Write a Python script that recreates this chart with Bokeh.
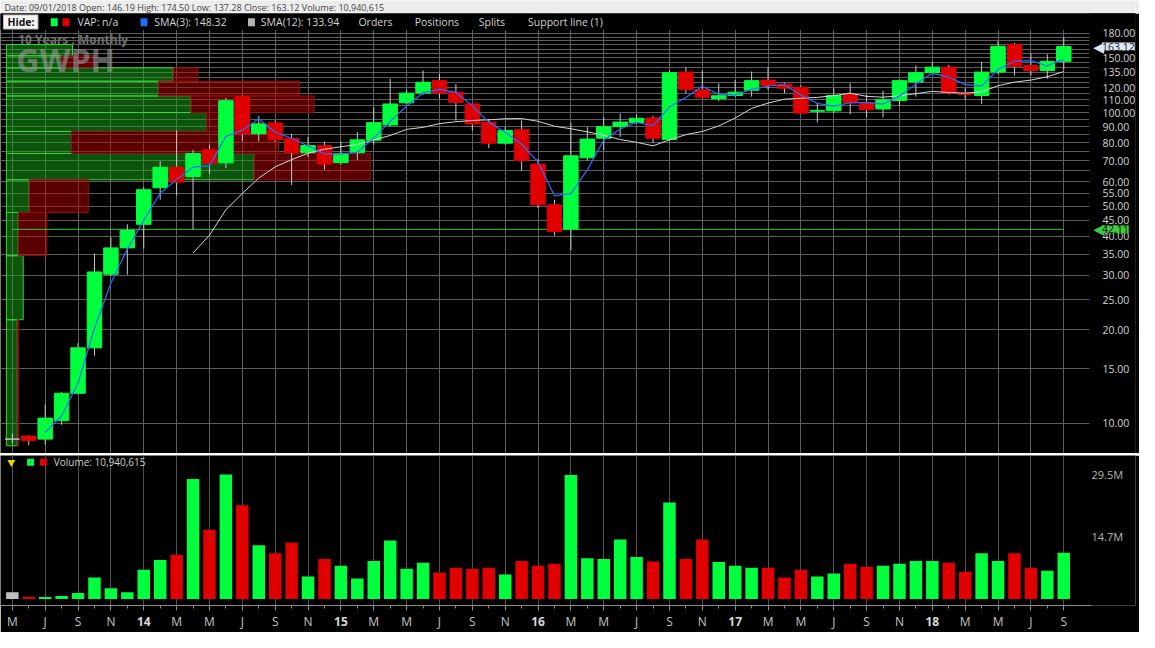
import pandas as pd
from bokeh.plotting import figure
from bokeh.models import Range1d, FixedTicker, PrintfTickFormatter, Label, LinearAxis
from bokeh.layouts import column
from bokeh.embed import file_html
from bokeh.resources import INLINE
from bokeh.core.properties import value

# ---------------- data (GWPH, monthly, May 2013 - Sep 2018) ----------------
months = [d.strftime("%b %Y") for d in pd.date_range("2013-05-01", periods=65, freq="MS")]

opens = [8.90, 9.10, 8.90, 10.2, 12.5, 17.5, 30.2, 36.7, 43.7, 57.3,
         66.7, 62.3, 75.9, 68.9, 112.5, 85.5, 92.6, 82.7, 74.3, 78.3,
         69.0, 74.3, 81.5, 91.2, 107.5, 115.5, 126.7, 116.4, 106.6, 93.2,
         79.7, 88.1, 68.3, 50.5, 42.2, 71.5, 82.7, 90.1, 92.8, 96.1,
         82.0, 135.0, 118.4, 110.8, 113.5, 118.0, 127.2, 123.5, 120.6, 101.0,
         101.3, 114.3, 107.5, 102.7, 109.4, 125.4, 134.4, 140.0, 115.5, 113.5,
         135.0, 165.7, 141.7, 136.6, 146.19]
highs = [9.3, 9.15, 11.5, 12.6, 18.1, 35.2, 39.7, 43.7, 57.5, 69.8,
         87.6, 75.9, 78.8, 111.5, 113.5, 97.6, 94.3, 85.5, 83.5, 80.7,
         80.7, 86.6, 104.0, 128.5, 118.4, 136.6, 133.4, 123.5, 107.0, 95.4,
         89.8, 94.3, 70.8, 52.4, 92.8, 89.8, 96.6, 99.3, 98.8, 97.6,
         136.6, 140.0, 136.6, 124.2, 127.2, 135.6, 140.0, 125.0, 122.2, 107.5,
         119.8, 124.2, 114.3, 117.5, 127.5, 141.7, 145.7, 142.4, 119.8, 145.7,
         170.0, 167.6, 155.0, 154.0, 174.50]
lows = [8.6, 8.5, 8.55, 9.9, 12.4, 16.5, 29.8, 30.1, 36.5, 52.4,
        54.1, 42.11, 63.4, 66.3, 80.7, 80.7, 80.5, 58.5, 72.0, 65.5,
        68.0, 70.4, 78.8, 90.0, 106.5, 114.0, 111.0, 94.3, 87.6, 76.9,
        79.0, 64.9, 49.3, 40.2, 36.1, 70.0, 75.6, 83.5, 92.0, 79.7,
        81.0, 115.5, 111.0, 108.8, 112.5, 112.5, 118.4, 115.5, 99.0, 93.0,
        99.6, 98.8, 96.6, 96.6, 105.0, 112.5, 133.0, 114.3, 110.0, 106.6,
        133.0, 131.6, 131.6, 128.5, 137.28]
closes = [8.90, 8.80, 10.4, 12.5, 17.5, 30.7, 36.7, 41.8, 56.5, 66.7,
          59.7, 73.8, 68.6, 109.2, 85.5, 92.0, 81.7, 74.3, 78.3, 68.3,
          73.7, 81.7, 92.8, 106.6, 115.5, 125.2, 115.5, 107.9, 91.9, 79.7,
          87.6, 70.0, 50.5, 41.4, 72.6, 82.2, 90.1, 93.2, 95.9, 82.7,
          134.4, 118.4, 112.0, 113.3, 116.3, 126.7, 122.2, 119.8, 99.6, 101.6,
          113.5, 107.5, 102.1, 110.0, 126.7, 134.4, 140.0, 115.5, 114.3, 135.0,
          163.5, 140.8, 136.6, 146.2, 163.12]
volume_m = [1.62, 0.54, 0.46, 0.69, 1.39, 5.09, 2.54, 1.62, 6.94, 9.25,
            10.41, 28.45, 16.42, 29.5, 22.2, 12.72, 10.87, 13.42, 5.32, 9.48,
            7.86, 4.86, 9.02, 13.88, 7.17, 8.56, 6.25, 7.40, 7.17, 7.40,
            5.78, 9.02, 7.86, 8.33, 29.4, 9.68, 9.48, 14.1, 9.95, 8.87,
            22.9, 9.48, 14.1, 8.79, 7.86, 7.40, 7.40, 5.09, 6.94, 5.32,
            6.01, 8.33, 7.63, 7.86, 8.33, 9.02, 9.02, 8.56, 6.48, 10.87,
            9.02, 10.87, 7.40, 6.71, 10.94]

# volume-at-price profile: price bin edges and up / down volume (millions)
vap_edges = [8.47, 21.55, 34.63, 47.71, 60.79, 73.87, 86.95, 100.03, 113.11,
             126.19, 139.27, 152.35, 165.43, 178.51]
vap_up_m = [3.3, 5.1, 3.6, 6.9, 75.3, 19.8, 60.9, 56.1, 46.2, 50.7, 16.8, 20.1, 0.0]
vap_down_m = [0.45, 0.0, 8.7, 18.0, 35.4, 63.0, 9.3, 37.5, 42.9, 7.5, 9.9, 0.0, 0.0]

support_level = 42.11
x_tick_labels = ["M", "J", "S", "N", "14", "M", "M", "J", "S", "N", "15", "M", "M", "J", "S", "N",
                 "16", "M", "M", "J", "S", "N", "17", "M", "M", "J", "S", "N", "18", "M", "M", "J", "S"]
price_tick_values = [10, 15, 20, 25, 30, 35, 40, 45, 50, 55, 60, 70, 80, 90, 100, 110, 120, 135, 150, 180]
price_grid_values = list(range(10, 181, 5))
vol_tick_values = [14.7e6, 29.5e6]
vol_tick_labels = ["14.7M", "29.5M"]

header_text = ("Date: 09/01/2018   Open: 146.19   High: 174.50   Low: 137.28   "
               "Close: 163.12   Volume: 10,940,615")
legend_items = ["VAP: n/a", "SMA(3): 148.32", "SMA(12): 133.94", "Orders", "Positions",
                "Splits", "Support line (1)"]

# ---------------- styling / layout helpers ----------------
W = 1139
RB = 4                 # right border of every pane (px)
X_END = 1151           # reference pixel at the right edge of the frames
HDR_H = 13             # height of the date row (px)
GREEN = "#00ff3c"
RED = "#e00000"
GRAY = "#c0c0c0"
GRID = "#5e5e5e"
FONT = "Open Sans"


def mx(px):  # reference pixel x -> month index
    return (px - 12.0) / 16.66


def py(px):  # reference pixel y -> price (log scale)
    return 10 ** (1 + (435.0 - px) / 320.0)


def vy(px):  # reference pixel y -> volume
    return (615.0 - px) / 4.32 * 1e6


n = len(closes)
idx = list(range(n))
even_idx = idx[::2]
colors = [GREEN if c > o else (RED if c < o else GRAY) for o, c in zip(opens, closes)]
body_top = [max(o, c) for o, c in zip(opens, closes)]
body_bot = [min(o, c) for o, c in zip(opens, closes)]
cs = pd.Series(closes)
sma3 = cs.rolling(3).mean()
sma12 = cs.rolling(12).mean()

xr = Range1d(mx(0), mx(X_END))

# ---------------- date row ----------------
hdr = figure(width=W, height=HDR_H, x_range=Range1d(0, X_END), y_range=Range1d(HDR_H, 0),
             toolbar_location=None, output_backend="svg", tools="",
             x_axis_location=None, y_axis_location=None,
             min_border_left=0, min_border_top=0, min_border_bottom=0, min_border_right=RB,
             background_fill_color="#ececec", border_fill_color="#ececec", outline_line_color=None)
hdr.grid.visible = False
hdr.text(x=[4], y=[HDR_H / 2.0], text=[header_text], text_font=value(FONT), text_font_size="9px",
         text_color="#444444", text_baseline="middle")

# ---------------- price pane (includes the legend row) ----------------
p = figure(width=W, height=453 - HDR_H, x_range=xr, y_range=Range1d(py(466), py(HDR_H)),
           y_axis_type="log", y_axis_location="right", x_axis_location=None,
           toolbar_location=None, output_backend="svg", tools="",
           background_fill_color="black", border_fill_color="black", outline_line_color=None,
           min_border_left=0, min_border_right=RB, min_border_top=0, min_border_bottom=0)
ax = p.yaxis[0]
ax.ticker = FixedTicker(ticks=price_tick_values, minor_ticks=price_grid_values)
ax.formatter = PrintfTickFormatter(format="%.2f")
ax.axis_line_color = None
ax.major_tick_line_color = None
ax.minor_tick_line_color = None
ax.major_tick_out = 0
ax.major_tick_in = 0
ax.minor_tick_out = 0
ax.minor_tick_in = 0
ax.major_label_text_color = "#d4d4d4"
ax.major_label_text_font = FONT
ax.major_label_text_font_size = "10.5px"
ax.major_label_standoff = -33
p.ygrid.grid_line_color = GRID
p.ygrid.minor_grid_line_color = GRID
p.xgrid.ticker = FixedTicker(ticks=even_idx)
p.xgrid.grid_line_color = GRID

# blank legend row and blank strip behind the price scale (hide grid lines there)
p.quad(left=mx(-10), right=mx(X_END + 10), bottom=py(30), top=py(0),
       fill_color="black", line_color=None)
p.quad(left=mx(1104), right=mx(X_END + 10), bottom=py(470), top=py(0),
       fill_color="black", line_color=None)

# volume-at-price bars
VAP_X0 = mx(6)
VAP_SCALE = 1.0 / (0.3 * 16.66)  # months of width per million shares
up_r = [VAP_X0 + u * VAP_SCALE for u in vap_up_m]
dn_r = [r + d * VAP_SCALE for r, d in zip(up_r, vap_down_m)]
bins = list(zip(vap_edges[:-1], vap_edges[1:]))
gi = [k for k in range(len(bins)) if vap_up_m[k] > 0]
ri = [k for k in range(len(bins)) if vap_down_m[k] > 0]
p.quad(left=VAP_X0, right=[up_r[k] for k in gi], bottom=[bins[k][0] for k in gi],
       top=[bins[k][1] for k in gi], fill_color="#19a819", fill_alpha=0.5,
       line_color="#3ad43a", line_width=1)
p.quad(left=[up_r[k] for k in ri], right=[dn_r[k] for k in ri], bottom=[bins[k][0] for k in ri],
       top=[bins[k][1] for k in ri], fill_color="#b40000", fill_alpha=0.5,
       line_color="#8c1212", line_width=1)

p.line(x=[idx[0], idx[-1]], y=[support_level, support_level], line_color="#3cc83c", line_width=1)
p.segment(x0=idx, y0=lows, x1=idx, y1=highs, line_color="#c8c8c8", line_width=1)
p.vbar(x=idx, width=0.88, top=body_top, bottom=body_bot, fill_color=colors, line_color=colors)
p.line(x=idx[11:], y=list(sma12[11:]), line_color="#d4d4d4", line_width=1)
p.line(x=idx[2:], y=list(sma3[2:]), line_color="#2a6cff", line_width=1.2)

# legend row
p.quad(left=mx(3), right=mx(38), top=py(14.5), bottom=py(29), fill_color="#f6f6f6",
       line_color="#b8b8b8")
p.text(x=[mx(7)], y=[py(21.8)], text=["Hide:"], text_font=value(FONT), text_font_size="10.5px",
       text_font_style="bold", text_color="#111111", text_baseline="middle")
p.quad(left=[mx(51), mx(63), mx(142), mx(251)], right=[mx(58), mx(70), mx(149), mx(258)],
       top=[py(18)] * 4, bottom=[py(26)] * 4,
       fill_color=[GREEN, RED, "#1f6cff", "#b4b4b4"], line_color=None)
p.text(x=[mx(t) for t in [78, 156, 264, 363, 420, 485, 535]], y=[py(21.8)] * 7, text=legend_items,
       text_font=value(FONT), text_font_size="10.5px", text_color="#d2d2d2", text_baseline="middle")

p.add_layout(Label(x=mx(18), y=py(40), text="10 Years : Monthly", text_font=FONT,
                   text_font_size="12px", text_font_style="bold", text_color="#6e6e6e",
                   text_baseline="middle"))
p.add_layout(Label(x=mx(16), y=py(60), text="GWPH", text_font=FONT, text_font_size="32px",
                   text_font_style="bold", text_color="#9a9a9a", text_alpha=0.6,
                   text_baseline="middle"))
# last close / support markers on the price scale
for lvl, bg, fg in [(closes[-1], "#dde8f4", "#1a1a1a"), (support_level, "#3ccc3c", "#0a0a0a")]:
    p.add_layout(Label(x=mx(1119), y=lvl, text="\u25c0", text_font="DejaVu Sans",
                       text_font_size="14px", text_color=bg, text_align="right",
                       text_baseline="middle"))
    p.add_layout(Label(x=mx(1117), y=lvl, text=f"{lvl:.2f}", text_font=FONT,
                       text_font_size="10.5px", text_color=fg, text_align="left",
                       text_baseline="middle", background_fill_color=bg))

# ---------------- separator ----------------
sep = figure(width=W, height=2, x_range=Range1d(0, 1), y_range=Range1d(0, 1),
             toolbar_location=None, output_backend="svg", tools="",
             x_axis_location=None, y_axis_location=None,
             min_border_left=0, min_border_top=0, min_border_bottom=0, min_border_right=RB,
             background_fill_color="#777777", border_fill_color="#777777", outline_line_color=None)
sep.grid.visible = False
sep.quad(left=0, right=1, bottom=0, top=1, fill_color="#777777", line_color=None)

# ---------------- volume pane ----------------
v = figure(width=W, height=177, x_range=xr, y_range=Range1d(vy(621.7), vy(468)),
           y_axis_location="right", toolbar_location=None, output_backend="svg", tools="",
           background_fill_color="black", border_fill_color="black", outline_line_color=None,
           min_border_left=0, min_border_right=RB, min_border_top=0, min_border_bottom=25)
v.vbar(x=idx, top=[m * 1e6 for m in volume_m], bottom=0, width=0.76, fill_color=colors,
       line_color=None)
xa = v.xaxis[0]
xa.ticker = FixedTicker(ticks=even_idx, minor_ticks=idx)
xa.major_label_overrides = {i: ("" if lab.isdigit() else lab) for i, lab in zip(even_idx, x_tick_labels)}
xa.bounds = (mx(0), mx(1106))
xa.axis_line_color = "#8a8a8a"
xa.major_tick_line_color = "#8a8a8a"
xa.minor_tick_line_color = "#8a8a8a"
xa.major_tick_in = 0
xa.major_tick_out = 5
xa.minor_tick_in = 0
xa.minor_tick_out = 3
xa.major_label_standoff = 2
xa.major_label_text_color = "#c4c4c4"
xa.major_label_text_font = FONT
xa.major_label_text_font_size = "12px"

# bold year labels on a second (overlaid) axis
year_idx = [i for i, lab in zip(even_idx, x_tick_labels) if lab.isdigit()]
year_lab = [lab for lab in x_tick_labels if lab.isdigit()]
xb = LinearAxis(ticker=FixedTicker(ticks=year_idx), major_label_overrides=dict(zip(year_idx, year_lab)),
                axis_line_color=None, major_tick_line_color=None, minor_tick_line_color=None,
                major_tick_in=0, major_tick_out=0, minor_tick_in=0, minor_tick_out=0,
                major_label_standoff=-16, major_label_text_color="#d8d8d8",
                major_label_text_font=FONT, major_label_text_font_size="12px",
                major_label_text_font_style="bold")
v.add_layout(xb, "below")

ya = v.yaxis[0]
ya.ticker = FixedTicker(ticks=vol_tick_values)
ya.major_label_overrides = dict(zip(vol_tick_values, vol_tick_labels))
ya.axis_line_color = None
ya.major_tick_line_color = None
ya.minor_tick_line_color = None
ya.major_tick_in = 0
ya.major_tick_out = 0
ya.minor_tick_in = 0
ya.minor_tick_out = 0
ya.major_label_standoff = -44
ya.major_label_text_color = "#b8b8b8"
ya.major_label_text_font = FONT
ya.major_label_text_font_size = "11px"
v.xgrid.grid_line_color = "#505050"
v.ygrid.grid_line_color = None

v.scatter(x=[mx(11)], y=[vy(475)], marker="inverted_triangle", size=8, fill_color="#e8d400",
          line_color=None)
v.scatter(x=[mx(30.5), mx(43.5)], y=[vy(475)] * 2, marker="square", size=7,
          fill_color=[GREEN, RED], line_color=None)
v.add_layout(Label(x=mx(54), y=vy(475), text="Volume: 10,940,615", text_font=FONT,
                   text_font_size="10px", text_color="#cfcfcf", text_baseline="middle"))

layout = column(hdr, p, sep, v, spacing=0)
open("out.html", "w").write(file_html(layout, INLINE, title="GWPH"))
